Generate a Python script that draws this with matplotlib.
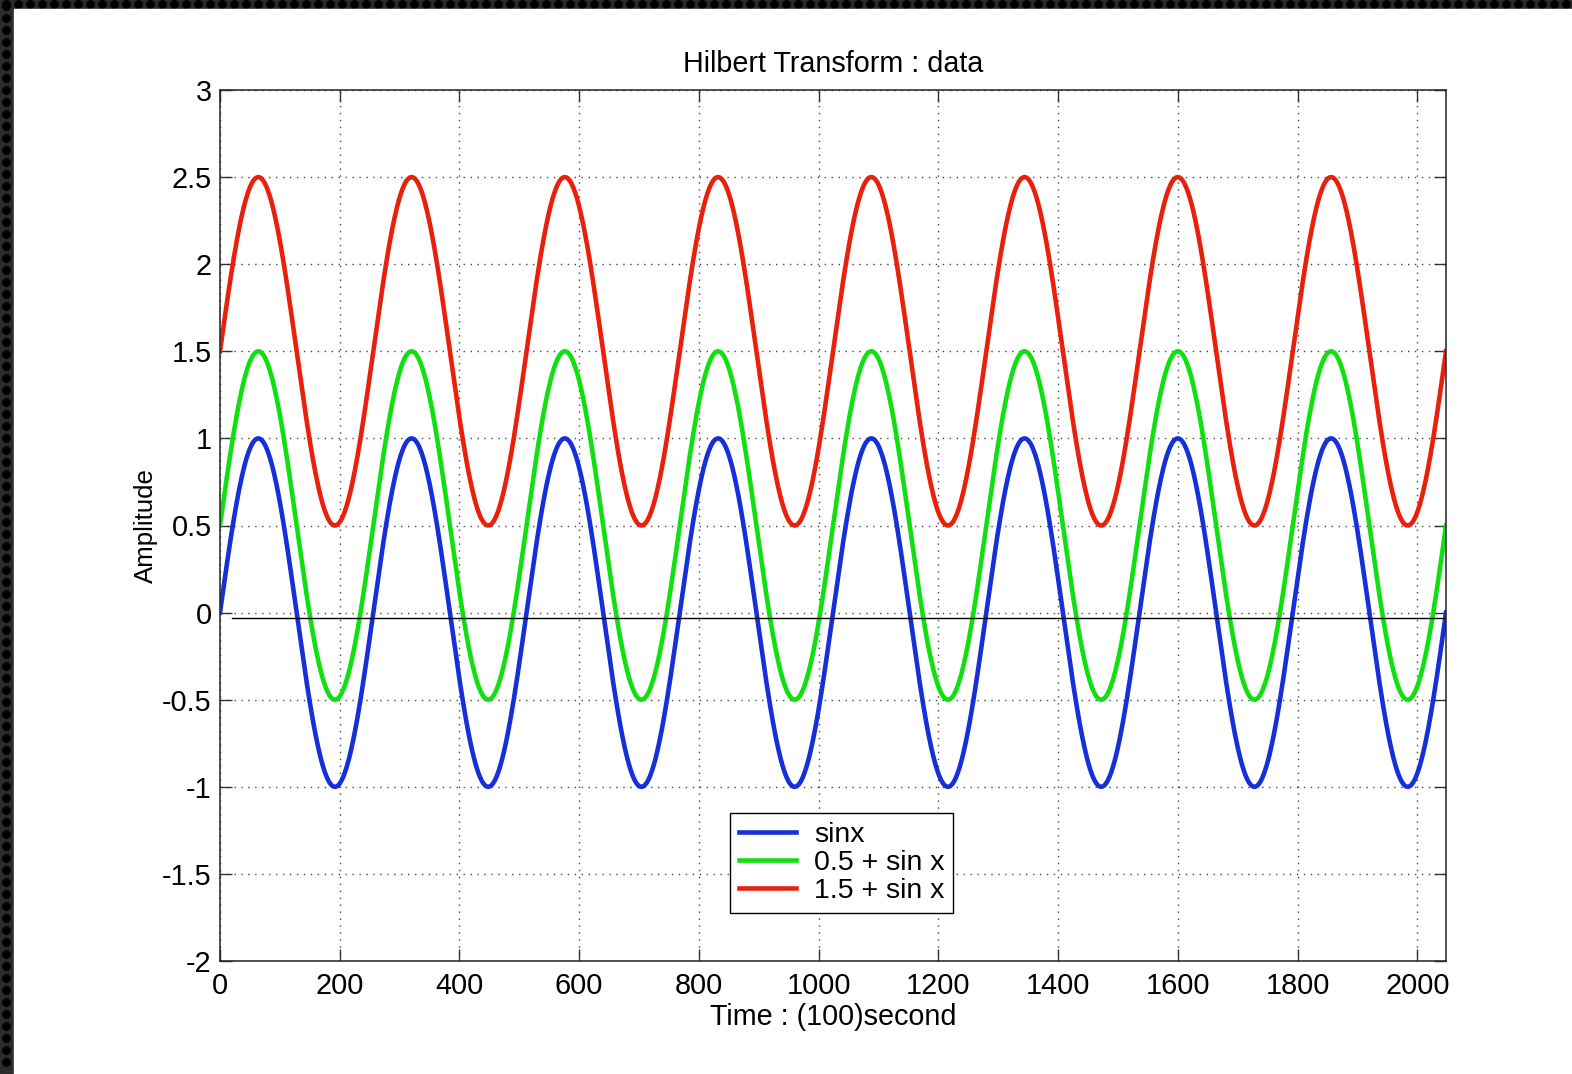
import numpy as np
import matplotlib

matplotlib.use("Agg")
import matplotlib.pyplot as plt
from matplotlib.patches import Rectangle

# signal description (the chart plots sin x and two offset copies)
N_SAMPLES = 2048
PERIOD = 256
OFFSETS = [0.0, 0.5, 1.5]
LABELS = ["sinx", "0.5 + sin x", "1.5 + sin x"]
COLORS = ["#1530d8", "#10e010", "#e8200c"]

# thin black reference line just under zero
REF_X = [20, 2048]
REF_Y = [-0.03, -0.03]

XTICKS = list(range(0, 2001, 200))
YTICKS = [-2, -1.5, -1, -0.5, 0, 0.5, 1, 1.5, 2, 2.5, 3]
YTICKLABELS = ["-2", "-1.5", "-1", "-0.5", "0", "0.5", "1", "1.5", "2", "2.5", "3"]

plt.rcParams["font.family"] = ["Liberation Sans", "DejaVu Sans"]

W, H = 1572, 1074
fig = plt.figure(figsize=(W / 100, H / 100), dpi=100)
fig.patch.set_facecolor("#2b2b2b")

# dotted dark frame (left and top strips), then the white page
bg = fig.add_axes([0, 0, 1, 1])
bg.set_xlim(0, W)
bg.set_ylim(H, 0)
bg.axis("off")
dots_x = [x for x in range(6, W, 12)]
dots_y = [y for y in range(6, H, 12)]
bg.scatter(dots_x, [4] * len(dots_x), s=40, color="black", lw=0)
bg.scatter([6] * len(dots_y), dots_y, s=40, color="black", lw=0)
bg.add_patch(Rectangle((14, 9), W - 14, H - 9, color="white", zorder=3))

ax = fig.add_axes([220 / W, 1 - 961 / H, 1226 / W, 871 / H])
x = np.arange(N_SAMPLES + 1)
for off, lab, col in zip(OFFSETS, LABELS, COLORS):
    ax.plot(x, off + np.sin(2 * np.pi * x / PERIOD), color=col, lw=3.3, label=lab)
ax.plot(REF_X, REF_Y, color="black", lw=1.0)

ax.set_xlim(0, N_SAMPLES)
ax.set_ylim(-2, 3)
ax.set_xticks(XTICKS)
ax.set_yticks(YTICKS, YTICKLABELS)
ax.grid(True, linestyle=(0, (1, 4)), color="#444444", lw=1.0)
ax.tick_params(direction="in", length=8.5, width=1, top=True, right=True,
               labelsize=20.8, color="#333333")
ax.tick_params(axis="x", pad=8)
ax.tick_params(axis="y", pad=6)
for s in ax.spines.values():
    s.set_linewidth(1.1)
    s.set_color("#222222")

ax.set_title("Hilbert Transform : data", fontsize=20.7, pad=13)
ax.set_xlabel("Time : (100)second", fontsize=20.7, labelpad=2)
ax.set_ylabel("Amplitude", fontsize=18.6, labelpad=3)

leg = ax.legend(loc="center", bbox_to_anchor=(0.507, 0.1125), fontsize=20.5,
                fancybox=False, framealpha=1, edgecolor="black",
                handlelength=2.0, borderpad=0.3, labelspacing=0.08,
                handletextpad=0.65, borderaxespad=0)
leg.get_frame().set_linewidth(1.0)

fig.savefig("out.png", dpi=100, facecolor=fig.get_facecolor())
